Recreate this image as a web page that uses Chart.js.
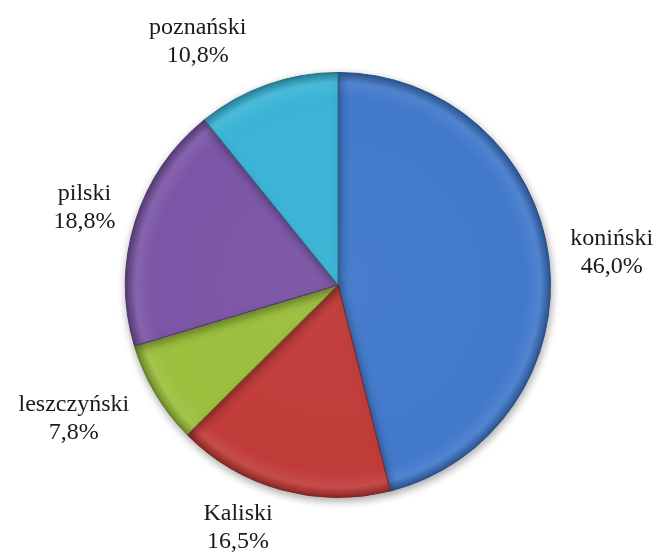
<!DOCTYPE html>
<html>
<head>
<meta charset="utf-8">
<script src="https://cdn.jsdelivr.net/npm/chart.js@4.4.1/dist/chart.umd.min.js"></script>
<style>
  html, body { margin: 0; padding: 0; background: #ffffff; }
  #wrap { width: 662px; height: 556px; position: relative; }
</style>
</head>
<body>
<div id="wrap"><canvas id="c" width="662" height="556"></canvas></div>
<script>
// ---- data ----
const categories = ['koniński', 'Kaliski', 'leszczyński', 'pilski', 'poznański'];
const shares = [46.0, 16.5, 7.8, 18.8, 10.8];
const valueLabels = ['46,0%', '16,5%', '7,8%', '18,8%', '10,8%'];

// ---- style ----
const baseColors = ['#4279CB', '#C03C39', '#9CBF3E', '#7B56A6', '#3BB4D6'];
const labelNudges = [[0, 0], [-28, 0], [-15, 0], [0, 0], [-46, 4]];

function shade(hex, f) {
  const n = parseInt(hex.slice(1), 16);
  let r = (n >> 16) & 255, g = (n >> 8) & 255, b = n & 255;
  if (f < 0) { r = r * (1 + f); g = g * (1 + f); b = b * (1 + f); }
  else { r = r + (255 - r) * f; g = g + (255 - g) * f; b = b + (255 - b) * f; }
  return 'rgb(' + Math.round(r) + ',' + Math.round(g) + ',' + Math.round(b) + ')';
}

function sliceFill(ctx) {
  const chart = ctx.chart;
  const base = baseColors[ctx.dataIndex];
  const a = chart.chartArea;
  if (!a) return base;
  const cx = (a.left + a.right) / 2, cy = (a.top + a.bottom) / 2;
  const r = Math.min(a.right - a.left, a.bottom - a.top) / 2;
  const g = chart.ctx.createRadialGradient(cx, cy, 0, cx, cy, r);
  g.addColorStop(0, shade(base, 0.03));
  g.addColorStop(0.88, base);
  g.addColorStop(0.95, shade(base, 0.08));
  g.addColorStop(0.985, shade(base, -0.18));
  g.addColorStop(1, shade(base, -0.35));
  return g;
}

const shadowPlugin = {
  id: 'pieShadow',
  beforeDatasetsDraw(chart) {
    const ctx = chart.ctx;
    ctx.save();
    ctx.shadowColor = 'rgba(0,0,0,0.35)';
    ctx.shadowBlur = 9;
    ctx.shadowOffsetX = 1;
    ctx.shadowOffsetY = 3;
  },
  afterDatasetsDraw(chart) {
    chart.ctx.restore();
  }
};

const labelPlugin = {
  id: 'outsideLabels',
  afterDraw(chart, args, opts) {
    const ctx = chart.ctx;
    const meta = chart.getDatasetMeta(0);
    const lh = 28;
    ctx.save();
    ctx.font = '24px "Times New Roman", "Liberation Serif", Tinos, serif';
    ctx.fillStyle = '#1a1a1a';
    ctx.textAlign = 'center';
    ctx.textBaseline = 'middle';
    meta.data.forEach((arc, i) => {
      const p = arc.getProps(['x', 'y', 'startAngle', 'endAngle', 'outerRadius'], true);
      const mid = (p.startAngle + p.endAngle) / 2;
      const dx = Math.cos(mid), dy = Math.sin(mid);
      const lines = [categories[i], valueLabels[i]];
      const w = Math.max(...lines.map(t => ctx.measureText(t).width));
      const h = lh * 2;
      const rr = p.outerRadius + opts.gap;
      let cx = p.x + dx * rr + dx * w / 2;
      let cy = p.y + dy * rr + dy * h / 2;
      cy = Math.min(cy, chart.height - h / 2);
      cy = Math.max(cy, h / 2);
      cx += labelNudges[i][0];
      cy += labelNudges[i][1];
      ctx.fillText(lines[0], cx, cy - lh / 2);
      ctx.fillText(lines[1], cx, cy + lh / 2);
    });
    ctx.restore();
  }
};

new Chart(document.getElementById('c'), {
  type: 'pie',
  data: {
    labels: categories,
    datasets: [{
      data: shares,
      backgroundColor: sliceFill,
      borderColor: baseColors.map(c => shade(c, -0.35)),
      borderWidth: 1
    }]
  },
  options: {
    responsive: false,
    animation: false,
    events: [],
    layout: { padding: { left: 125, right: 111, top: 72, bottom: 58 } },
    plugins: {
      legend: { display: false },
      tooltip: { enabled: false },
      outsideLabels: { gap: 22 }
    }
  },
  plugins: [shadowPlugin, labelPlugin]
});
</script>
</body>
</html>
